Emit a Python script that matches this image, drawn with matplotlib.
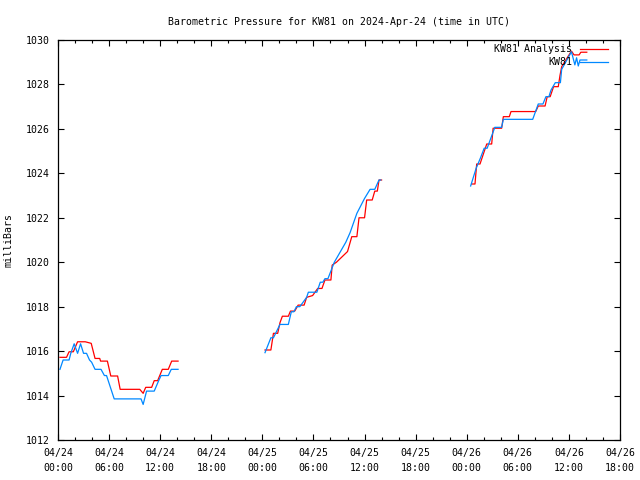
import numpy as np
import matplotlib
matplotlib.use("Agg")
import matplotlib.pyplot as plt
from matplotlib.lines import Line2D
from matplotlib.ticker import MultipleLocator

# hours since 2024-04-24 00:00 UTC ; NaN separates gaps
red_t = [0.23, 1.0, 1.3, 1.8, 2.3, 3.2, 3.9, 4.35, 4.9, 5.0, 5.8, 6.2, 7.0, 7.3, 9.6, 10.0, 10.3, 11.0,
         11.3, 11.7, 12.25, 12.95, 13.35, 14.1, np.nan,
         24.31, 25.0, 25.3, 25.8, 26.07, 26.35, 27.05, 27.3, 27.8, 28.2, 28.9, 29.2, 29.9, 30.5, 31.0,
         31.35, 32.05, 32.2, 32.7, 34.0, 34.5, 35.1, 35.35, 36.0, 36.25, 36.9, 37.2, 37.5, 37.7, 38.0, np.nan,
         48.58, 48.97, 49.17, 49.56, 50.35, 50.93, 51.1, 52.1, 52.3, 53.0, 53.2, 56.1, 56.4, 57.2, 57.45,
         57.8, 58.2, 58.75, 58.95, 59.15, 59.8, 60.3, 60.6, 61.2, 61.4, 62.1]
red_p = [1015.72, 1015.72, 1015.97, 1015.97, 1016.42, 1016.42, 1016.35, 1015.67, 1015.67, 1015.55, 1015.55,
         1014.88, 1014.88, 1014.28, 1014.28, 1014.1, 1014.37, 1014.37, 1014.67, 1014.67, 1015.18, 1015.18,
         1015.55, 1015.55, np.nan,
         1016.05, 1016.05, 1016.8, 1016.8, 1017.28, 1017.57, 1017.57, 1017.8, 1017.8, 1018.07, 1018.07,
         1018.42, 1018.5, 1018.82, 1018.82, 1019.2, 1019.2, 1019.87, 1020.0, 1020.48, 1021.15, 1021.15,
         1022.0, 1022.0, 1022.8, 1022.8, 1023.2, 1023.2, 1023.7, 1023.7, np.nan,
         1023.52, 1023.52, 1024.42, 1024.42, 1025.32, 1025.32, 1026.03, 1026.03, 1026.55, 1026.55, 1026.78,
         1026.78, 1027.03, 1027.03, 1027.45, 1027.45, 1027.9, 1027.9, 1028.4, 1028.8, 1029.2, 1029.5,
         1029.33, 1029.33, 1029.45, 1029.45]

blue_t = [0.23, 0.6, 1.3, 1.5, 1.9, 2.3, 2.65, 3.0, 3.35, 3.7, 3.95, 4.35, 5.05, 5.45, 5.7, 6.6, 9.75, 10.0,
          10.4, 11.3, 11.8, 12.1, 12.95, 13.3, 14.1, np.nan,
          24.31, 25.0, 25.3, 26.07, 27.05, 27.4, 27.7, 28.0, 28.4, 29.2, 29.4, 30.4, 30.8, 31.1, 31.35, 31.7,
          32.45, 33.8, 34.3, 35.1, 36.0, 36.65, 37.2, 37.7, 37.9, np.nan,
          48.46, 49.1, 49.6, 50.05, 50.4, 51.3, 52.1, 52.3, 55.75, 56.4, 56.95, 57.3, 57.65, 57.9, 58.4,
          59.0, 59.15, 60.3, 60.7, 60.9, 61.1, 61.3, 62.1]
blue_p = [1015.18, 1015.6, 1015.6, 1015.9, 1016.33, 1015.9, 1016.33, 1015.9, 1015.9, 1015.6, 1015.5,
          1015.18, 1015.18, 1014.9, 1014.9, 1013.85, 1013.85, 1013.6, 1014.2, 1014.2, 1014.65, 1014.9,
          1014.9, 1015.18, 1015.18, np.nan,
          1015.93, 1016.6, 1016.6, 1017.2, 1017.2, 1017.77, 1017.77, 1018.0, 1018.0, 1018.42, 1018.65,
          1018.65, 1019.1, 1019.1, 1019.26, 1019.26, 1020.0, 1020.9, 1021.33, 1022.2, 1022.87, 1023.28,
          1023.28, 1023.7, 1023.7, np.nan,
          1023.43, 1024.22, 1024.68, 1025.13, 1025.13, 1026.07, 1026.07, 1026.43, 1026.43, 1027.12,
          1027.12, 1027.45, 1027.45, 1027.75, 1028.08, 1028.08, 1028.68, 1029.47, 1028.88, 1029.2,
          1028.83, 1029.1, 1029.1]

xtick_pos = [0, 6, 12, 18, 24, 30, 36, 42, 48, 54, 60, 66]
xtick_labels = ["04/24\n00:00", "04/24\n06:00", "04/24\n12:00", "04/24\n18:00",
                "04/25\n00:00", "04/25\n06:00", "04/25\n12:00", "04/25\n18:00",
                "04/26\n00:00", "04/26\n06:00", "04/26\n12:00", "04/26\n18:00"]
series_names = ["KW81 Analysis", "KW81"]
RED = "#ff0000"
BLUE = "#0088ff"

plt.rcParams['font.family'] = ['DejaVu Sans Mono']
fs = 7.1

fig = plt.figure(figsize=(6.4, 4.8), dpi=100)
ax = fig.add_axes([58/640, 40/480, 562/640, 400/480])

ax.plot(red_t, red_p, color=RED, lw=0.9)
ax.plot(blue_t, blue_p, color=BLUE, lw=0.9)

ax.set_xlim(0, 66)
ax.set_ylim(1012, 1030)
ax.set_xticks(xtick_pos)
ax.set_xticklabels(xtick_labels, fontsize=fs, linespacing=1.55)
ax.xaxis.set_minor_locator(MultipleLocator(2))
ax.set_yticks(np.arange(1012, 1031, 2))
ax.set_yticklabels([str(v) for v in range(1012, 1031, 2)], fontsize=fs)
ax.tick_params(which='both', direction='in', top=True, right=True, width=0.8)
ax.tick_params(axis='x', which='major', length=4.5, pad=6)
ax.tick_params(axis='y', which='major', length=4.5, pad=6)
ax.tick_params(which='minor', length=2.2)
for s in ax.spines.values():
    s.set_linewidth(0.9)

ax.set_title("Barometric Pressure for KW81 on 2024-Apr-24 (time in UTC)", fontsize=fs, pad=11)
ax.set_ylabel("milliBars", fontsize=fs, labelpad=9)

# legend (gnuplot style, text right-aligned left of samples)
for name, col, yy in [(series_names[0], RED, 0.9775), (series_names[1], BLUE, 0.944)]:
    ax.add_line(Line2D([0.9288, 0.979], [yy, yy], transform=ax.transAxes, color=col, lw=0.9))
    ax.text(0.9146, yy, name, transform=ax.transAxes, ha='right', va='center', fontsize=fs)

fig.savefig("out.png", dpi=100)
